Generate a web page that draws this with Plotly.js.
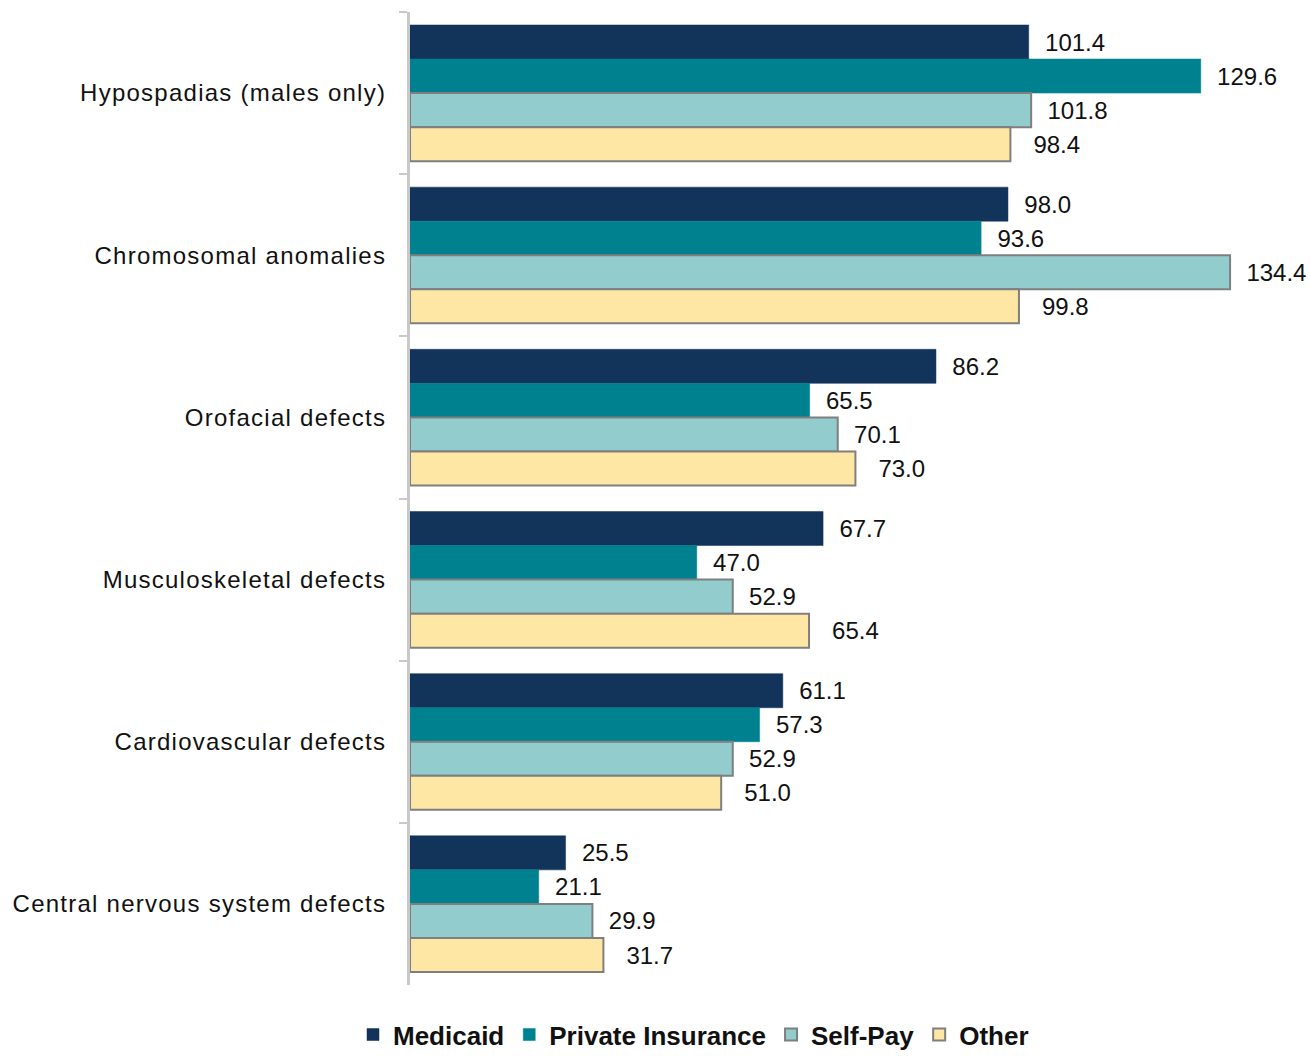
<!DOCTYPE html>
<html>
<head>
<meta charset="utf-8">
<script src="https://cdn.plot.ly/plotly-3.0.1.min.js"></script>
<style>
  html, body { margin: 0; padding: 0; background: #ffffff; }
  #chart { width: 1310px; height: 1056px; }
  #chart .ytick text { letter-spacing: 1.25px; }
</style>
</head>
<body>
<div id="chart"></div>
<script>
const categories = [
  "Hypospadias (males only)",
  "Chromosomal anomalies",
  "Orofacial defects",
  "Musculoskeletal defects",
  "Cardiovascular defects",
  "Central nervous system defects"
];
const medicaid = [101.4, 98.0, 86.2, 67.7, 61.1, 25.5];
const privateIns = [129.6, 93.6, 65.5, 47.0, 57.3, 21.1];
const selfPay = [101.8, 134.4, 70.1, 52.9, 52.9, 29.9];
const other = [98.4, 99.8, 73.0, 65.4, 51.0, 31.7];

const seriesNames = ["Medicaid", "Private Insurance", "Self-Pay", "Other"];
const seriesValues = [medicaid, privateIns, selfPay, other];
const seriesColors = ["#12335a", "#008190", "#93cccd", "#fee7a4"];
const seriesLines = [
  {color: "#12335a", width: 0.5},
  {color: "#008190", width: 0.5},
  {color: "#7f7f7f", width: 2},
  {color: "#7f7f7f", width: 2}
];
const labelPads = ["\u00a0\u00a0", "\u00a0\u00a0", "\u00a0\u00a0", "\u00a0\u00a0\u00a0"];

const traces = seriesNames.map((name, i) => ({
  type: "bar",
  orientation: "h",
  name: name,
  y: categories,
  x: seriesValues[i],
  marker: {color: seriesColors[i], line: seriesLines[i]},
  texttemplate: labelPads[i] + "%{x:.1f}",
  textposition: "outside",
  constraintext: "none",
  cliponaxis: false,
  textfont: {family: "Liberation Sans, Arial, sans-serif", size: 24, color: "#111111"},
  hoverinfo: "none"
}));

const layout = {
  width: 1310,
  height: 1056,
  margin: {l: 410, r: 0, t: 12, b: 71, autoexpand: false},
  paper_bgcolor: "#ffffff",
  plot_bgcolor: "#ffffff",
  barmode: "group",
  bargap: 0.16,
  bargroupgap: 0,
  showlegend: true,
  font: {family: "Liberation Sans, Arial, sans-serif", color: "#111111"},
  xaxis: {
    range: [0, 147.5],
    visible: false,
    showgrid: false,
    zeroline: false,
    fixedrange: true
  },
  yaxis: {
    autorange: "reversed",
    type: "category",
    showline: true,
    linecolor: "#c9c9c9",
    linewidth: 3,
    ticks: "outside",
    tickson: "boundaries",
    ticklen: 8,
    tickwidth: 2,
    tickcolor: "#c9c9c9",
    ticklabelstandoff: 16,
    tickfont: {family: "Liberation Sans, Arial, sans-serif", size: 24, color: "#111111"},
    showgrid: false,
    zeroline: false,
    fixedrange: true
  },
  legend: {
    orientation: "h",
    x: 0.315,
    xanchor: "center",
    y: -0.051,
    yanchor: "middle",
    font: {family: "Liberation Sans, Arial, sans-serif", size: 26, color: "#111111", weight: "bold"},
    traceorder: "normal",
    itemwidth: 30,
    bgcolor: "rgba(0,0,0,0)"
  }
};

Plotly.newPlot("chart", traces, layout, {displayModeBar: false, staticPlot: true});
</script>
</body>
</html>
